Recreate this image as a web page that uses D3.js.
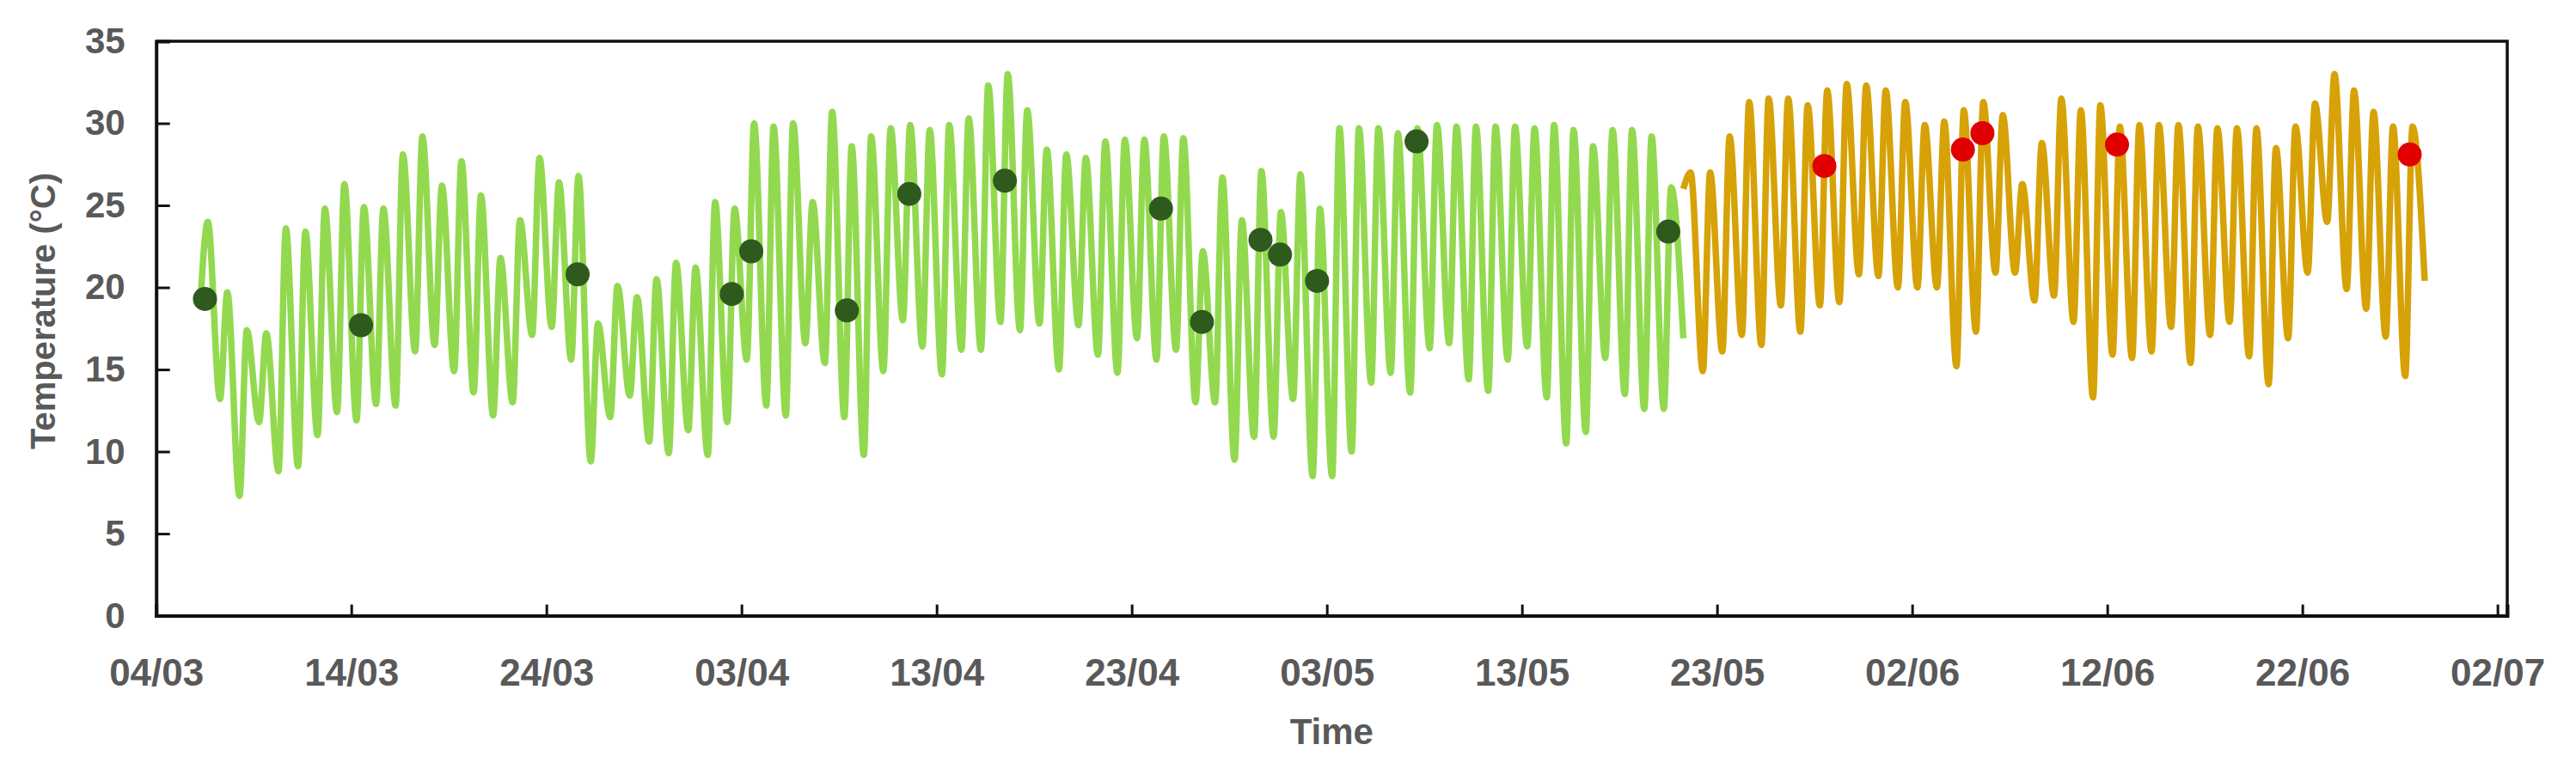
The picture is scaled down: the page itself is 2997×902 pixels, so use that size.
<!DOCTYPE html>
<html><head><meta charset="utf-8">
<script src="https://cdn.jsdelivr.net/npm/d3@7"></script>
<style>body{margin:0;background:#fff} svg{display:block}</style>
</head><body>
<svg id="chart" width="2997" height="902"></svg>
<script>
// ---------- data ----------
const xTickDates = ["2021-03-04","2021-03-14","2021-03-24","2021-04-03","2021-04-13","2021-04-23","2021-05-03","2021-05-13","2021-05-23","2021-06-02","2021-06-12","2021-06-22","2021-07-02"];
const xTickLabels = ["04/03","14/03","24/03","03/04","13/04","23/04","03/05","13/05","23/05","02/06","12/06","22/06","02/07"];
const yTicks = [0,5,10,15,20,25,30,35];
const yTickLabels = ["0","5","10","15","20","25","30","35"];
const dayZero = "2021-03-04";           // day index 0
const minHour = 6.5, maxHour = 15.5;     // time of daily minimum / maximum

// green series: daily min / max, starting day 2 (06/03)
const greenFirstDay = 2;
const greenMin = [19.2,13.2,7.3,11.8,8.8,9.1,11.0,12.4,11.9,12.9,12.8,16.1,16.5,14.9,13.6,12.2,13.0,17.1,17.6,15.6,
  9.4,12.1,13.4,10.6,9.9,11.3,9.8,11.8,15.6,12.8,12.2,16.6,15.4,12.1,9.8,14.9,18.0,16.4,14.7,16.2,
  16.2,17.9,17.4,17.8,15.0,17.7,15.9,14.8,16.9,15.6,16.2,13.0,13.0,9.5,10.9,10.9,13.2,8.5,8.5,10.0,
  14.2,14.8,13.6,16.3,16.6,14.4,13.7,15.6,16.4,13.3,10.5,11.2,15.7,13.5,12.6,12.6,16.9];
const greenMax = [24.0,19.7,17.4,17.2,23.6,23.4,24.8,26.3,24.9,24.8,28.1,29.2,26.2,27.7,25.6,21.8,24.1,27.9,26.4,26.8,
  17.8,20.1,19.4,20.5,21.5,21.2,25.2,24.8,30.0,29.8,30.0,25.2,30.7,28.6,29.2,29.7,29.9,29.6,29.9,30.3,
  32.3,33.0,30.8,28.4,28.1,27.9,28.9,29.0,29.0,29.2,29.1,22.2,26.7,24.1,27.1,24.6,26.9,24.8,29.7,29.7,
  29.7,29.4,29.7,29.9,29.8,29.8,29.8,29.8,29.7,29.9,29.6,28.6,29.6,29.6,29.2,26.1,null];

// orange series: daily min / max, starting day 78 (21/05)
const orangeFirstDay = 78;
const orangeMin = [26.0,14.9,16.1,17.1,16.5,18.9,17.3,18.9,19.1,20.8,20.7,20.0,20.0,20.0,15.2,17.3,20.9,20.9,19.2,19.5,
  17.9,13.3,15.9,15.7,16.1,17.6,15.4,17.1,17.9,15.8,14.1,16.9,20.9,24.0,19.9,18.7,17.0,14.6,20.4];
const orangeMax = [27.0,27.0,29.2,31.3,31.5,31.5,31.1,32.0,32.4,32.3,32.0,31.3,29.9,30.1,30.8,31.3,30.5,26.3,28.8,31.5,
  30.8,31.1,29.8,29.9,29.9,29.9,29.8,29.7,29.7,29.7,28.5,29.8,31.2,33.0,32.0,30.7,29.8,29.8,null];

// measurement points (day index, value)
const greenDotDays = [2.5,10.5,21.6,29.5,30.5,35.4,38.6,43.5,51.5,53.6,56.6,57.6,59.5,64.6,77.5];
const greenDotValues = [19.3,17.7,20.8,19.6,22.2,18.6,25.7,26.5,24.8,17.9,22.9,22.0,20.4,28.9,23.4];
const redDotDays = [85.5,92.6,93.6,100.5,115.5];
const redDotValues = [27.4,28.4,29.4,28.7,28.1];

// ---------- drawing ----------
const svg = d3.select("#chart");
const parse = d3.timeParse("%Y-%m-%d");
const t0 = parse(dayZero);
const dayToDate = d => new Date(t0.getTime() + d * 86400000);

const L = 181.7, R = 2917, T = 48, B = 716.6;
const x = d3.scaleTime().domain([t0, dayToDate(120.5)]).range([L, R]);
const y = d3.scaleLinear().domain([0, 35]).range([B, T]);

function buildSeries(first, mins, maxs) {
  const pts = [];
  mins.forEach((mn, i) => {
    const d = first + i;
    if (mn != null) pts.push({t: dayToDate(d + minHour / 24), v: mn});
    if (maxs[i] != null) pts.push({t: dayToDate(d + maxHour / 24), v: maxs[i]});
  });
  return pts;
}
const greenPts = buildSeries(greenFirstDay, greenMin, greenMax);
const orangePts = buildSeries(orangeFirstDay, orangeMin, orangeMax);

const line = d3.line().x(p => x(p.t)).y(p => y(p.v)).curve(d3.curveMonotoneX);

svg.append("path").datum(greenPts).attr("d", line)
  .attr("fill", "none").attr("stroke", "#92d94f").attr("stroke-width", 7.5).attr("stroke-linejoin", "round");
svg.append("path").datum(orangePts).attr("d", line)
  .attr("fill", "none").attr("stroke", "#d6a207").attr("stroke-width", 7.5).attr("stroke-linejoin", "round");

svg.append("g").selectAll("circle").data(greenDotDays).join("circle")
  .attr("cx", d => x(dayToDate(d))).attr("cy", (d, i) => y(greenDotValues[i]))
  .attr("r", 14).attr("fill", "#2f5a1e");
svg.append("g").selectAll("circle").data(redDotDays).join("circle")
  .attr("cx", d => x(dayToDate(d))).attr("cy", (d, i) => y(redDotValues[i]))
  .attr("r", 14).attr("fill", "#e00000");

// frame (top & right)
svg.append("path").attr("d", `M${L},${T}H${R}V${B}`).attr("fill", "none")
  .attr("stroke", "#111").attr("stroke-width", 3.5);

// axes
const xAxis = d3.axisBottom(x)
  .tickValues(xTickDates.map(parse))
  .tickFormat((d, i) => xTickLabels[i])
  .tickSize(-13).tickPadding(50);
const gx = svg.append("g").attr("transform", `translate(0,${B})`).call(xAxis);
gx.select(".domain").attr("stroke", "#111").attr("stroke-width", 4);
gx.selectAll(".tick line").attr("stroke", "#111").attr("stroke-width", 3);
gx.selectAll("text").attr("fill", "#595959")
  .style("font-family", "'Liberation Sans Narrow', 'Liberation Sans', sans-serif")
  .style("font-weight", "bold").style("font-size", "44px");

const yAxis = d3.axisLeft(y).tickValues(yTicks)
  .tickFormat((d, i) => yTickLabels[i]).tickSize(-16).tickPadding(36);
const gy = svg.append("g").attr("transform", `translate(${L},0)`).call(yAxis);
gy.select(".domain").attr("stroke", "#111").attr("stroke-width", 4);
gy.selectAll(".tick line").attr("stroke", "#111").attr("stroke-width", 3);
gy.selectAll("text").attr("fill", "#595959")
  .style("font-family", "'Liberation Sans', sans-serif")
  .style("font-weight", "bold").style("font-size", "42px");

// titles
svg.append("text").text("Time")
  .attr("x", (L + R) / 2).attr("y", 866).attr("text-anchor", "middle")
  .attr("fill", "#595959")
  .style("font-family", "'Liberation Sans Narrow', 'Liberation Sans', sans-serif")
  .style("font-weight", "bold").style("font-size", "42px");
svg.append("text").text("Temperature (°C)")
  .attr("transform", `translate(64,362) rotate(-90)`).attr("text-anchor", "middle")
  .attr("fill", "#595959")
  .style("font-family", "'Liberation Sans Narrow', 'Liberation Sans', sans-serif")
  .style("font-weight", "bold").style("font-size", "40px");
</script>
</body></html>
